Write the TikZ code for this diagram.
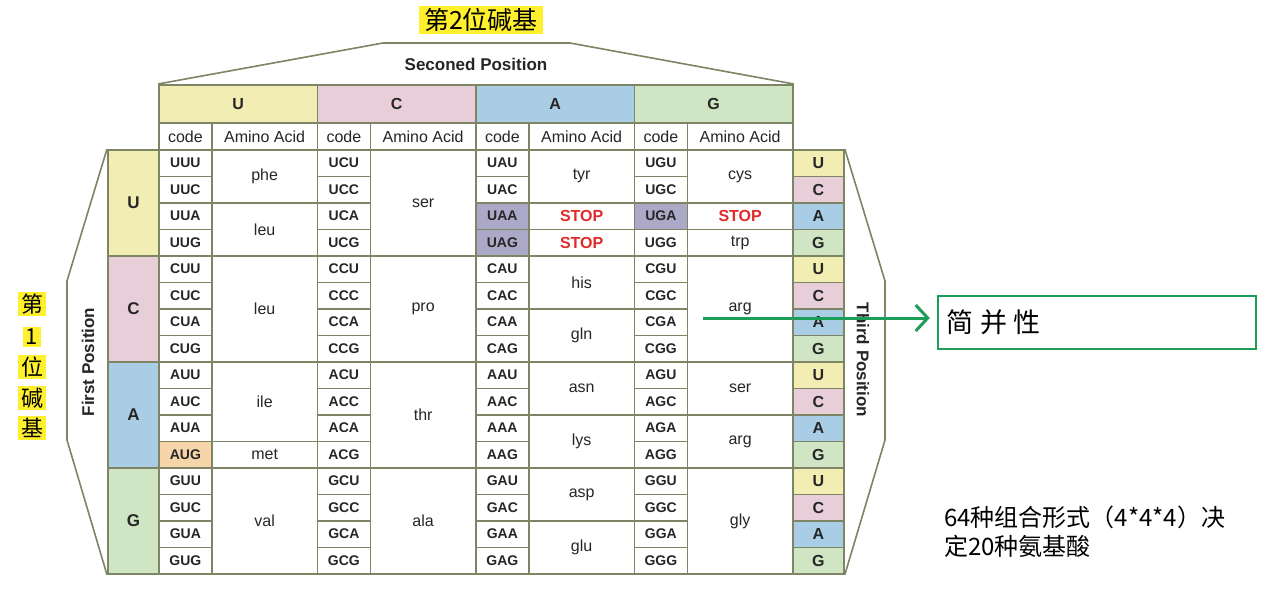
\documentclass[tikz,border=0pt]{standalone}
\usepackage{fontspec}
\setmainfont{Liberation Sans}
\newfontfamily\cjk{Noto Sans CJK SC}
\usepackage{xcolor}
\usepackage{tikz}
\usetikzlibrary{arrows.meta}
\definecolor{baseU}{RGB}{242,237,178}
\definecolor{baseC}{RGB}{231,206,216}
\definecolor{baseA}{RGB}{170,205,230}
\definecolor{baseG}{RGB}{207,229,196}
\definecolor{stopc}{RGB}{172,168,200}
\definecolor{metc}{RGB}{246,213,170}
\definecolor{gridc}{RGB}{125,133,100}
\definecolor{stopred}{RGB}{226,42,42}
\definecolor{markc}{RGB}{255,240,45}
\definecolor{arrowc}{RGB}{28,158,88}
\newcommand{\fillUAA}{stopc}
\newcommand{\fillUAG}{stopc}
\newcommand{\fillUGA}{stopc}
\newcommand{\fillAUG}{metc}
\newcommand{\stoptext}{\textcolor{stopred}{\bfseries STOP}}

\begin{document}
\begin{tikzpicture}[x=1pt,y=-1pt]
\tikzstyle{cell}=[draw=gridc, line width=1.8pt, inner sep=0pt, anchor=north west, fill=white, text=black!85]
\tikzstyle{codebox}=[cell, minimum width=53pt, minimum height=26.5pt, font=\fontsize{14}{16}\selectfont\bfseries]
\tikzstyle{aabox}=[cell, minimum width=105.5pt, font=\fontsize{16}{18}\selectfont]
\tikzstyle{headbox}=[cell, minimum width=158.5pt, minimum height=38pt, font=\fontsize{16}{18}\selectfont\bfseries]
\tikzstyle{subbox}=[cell, minimum height=27pt, font=\fontsize{16}{18}\selectfont]
\tikzstyle{sidebox}=[cell, minimum width=51pt, font=\fontsize{16}{18}\selectfont\bfseries]
\tikzstyle{frame}=[draw=gridc, line width=1.6pt]
\tikzstyle{title}=[font=\fontsize{17}{19}\selectfont\bfseries, text=black!85]
\tikzstyle{highlight}=[fill=markc, inner xsep=3pt, inner ysep=2pt, font=\cjk\fontsize{22}{24}\selectfont]
\tikzstyle{degbox}=[draw=arrowc, line width=2.5pt, fill=white, minimum height=53pt, inner xsep=8pt, text width=302pt, align=left, font=\cjk\fontsize{27}{30}\selectfont]

\useasboundingbox[fill=white] (0,0) rectangle (1262,589);

\foreach \g/\gb in {0/U,1/C,2/A,3/G} {
  \node[headbox, fill=base\gb] (head-\gb) at ({158+158.5*\g},84) {\gb};
  \node[subbox, minimum width=53pt] (sub-code-\gb) at ({158+158.5*\g},122) {code};
  \node[subbox, minimum width=105.5pt] (sub-aa-\gb) at ({211+158.5*\g},122) {Amino Acid};
  \node[sidebox, minimum height=106pt, fill=base\gb, font=\fontsize{17}{19}\selectfont\bfseries] (first-\gb) at (107,{149+106*\g}) {\gb};
}

\foreach \f/\fb in {0/U,1/C,2/A,3/G}
\foreach \t/\tb in {0/U,1/C,2/A,3/G} {
  \node[sidebox, minimum height=26.5pt, fill=base\tb] (third-\fb\tb) at (792,{149+26.5*(4*\f+\t)}) {\tb};
  \foreach \g/\gb in {0/U,1/C,2/A,3/G} {
    \ifcsname fill\fb\gb\tb\endcsname \edef\cf{\csname fill\fb\gb\tb\endcsname}\else \def\cf{white}\fi
    \node[codebox, fill=\cf] (code-\fb\gb\tb) at ({158+158.5*\g},{149+26.5*(4*\f+\t)}) {\fb\gb\tb};
  }
}

\foreach \g/\r/\n/\aa in {0/0/2/phe, 0/2/2/leu, 0/4/4/leu, 0/8/3/ile, 0/11/1/met, 0/12/4/val,
  1/0/4/ser, 1/4/4/pro, 1/8/4/thr, 1/12/4/ala,
  2/0/2/tyr, 2/2/1/\stoptext, 2/3/1/\stoptext, 2/4/2/his, 2/6/2/gln, 2/8/2/asn, 2/10/2/lys, 2/12/2/asp, 2/14/2/glu,
  3/0/2/cys, 3/2/1/\stoptext, 3/3/1/trp, 3/4/4/arg, 3/8/2/ser, 3/10/2/arg, 3/12/4/gly}
  \node[aabox, minimum height=\n*26.5pt] (aa-\g-\r) at ({211+158.5*\g},{149+26.5*\r}) {\aa};

\draw[frame] (head-U.north west) -- (383,43) -- (570,43) -- (head-G.north east);
\draw[frame] (first-U.north west) -- (67,281) -- (67,440) -- (first-G.south west);
\draw[frame] (third-UU.north east) -- (885,281) -- (885,440) -- (third-GG.south east);

\node[title] (secondpos) at (476,64) {Seconed Position};
\node[title, rotate=90] (firstpos) at (88,362) {First Position};
\node[title, rotate=-90] (thirdpos) at (863,360) {Third Position};

\node[highlight, inner xsep=5pt, inner ysep=2.5pt, font=\cjk\fontsize{25}{27}\selectfont] (secondcn) at (481,20) {第2位碱基};
\foreach \ch/\yy [count=\k] in {第/304,1/337,位/367,碱/398,基/428}
  \node[highlight] (firstcn-\k) at (32,\yy) {\ch};

\node[degbox] (degen) at (1097,322.5) {简\hspace{7pt}并\hspace{7pt}性};
\coordinate (argmark) at (703,318);
\draw[arrowc, line width=3pt, -{Straight Barb[length=12pt,width=26pt]}, shorten >=7pt] (argmark) -- (argmark -| degen.west);

\node[anchor=base west, inner sep=0pt, font=\cjk\fontsize{24}{26}\selectfont] (summary-a) at (944,526) {64种组合形式（4*4*4）决};
\node[anchor=base west, inner sep=0pt, font=\cjk\fontsize{24}{26}\selectfont] (summary-b) at (944,555) {定20种氨基酸};
\end{tikzpicture}
\end{document}
